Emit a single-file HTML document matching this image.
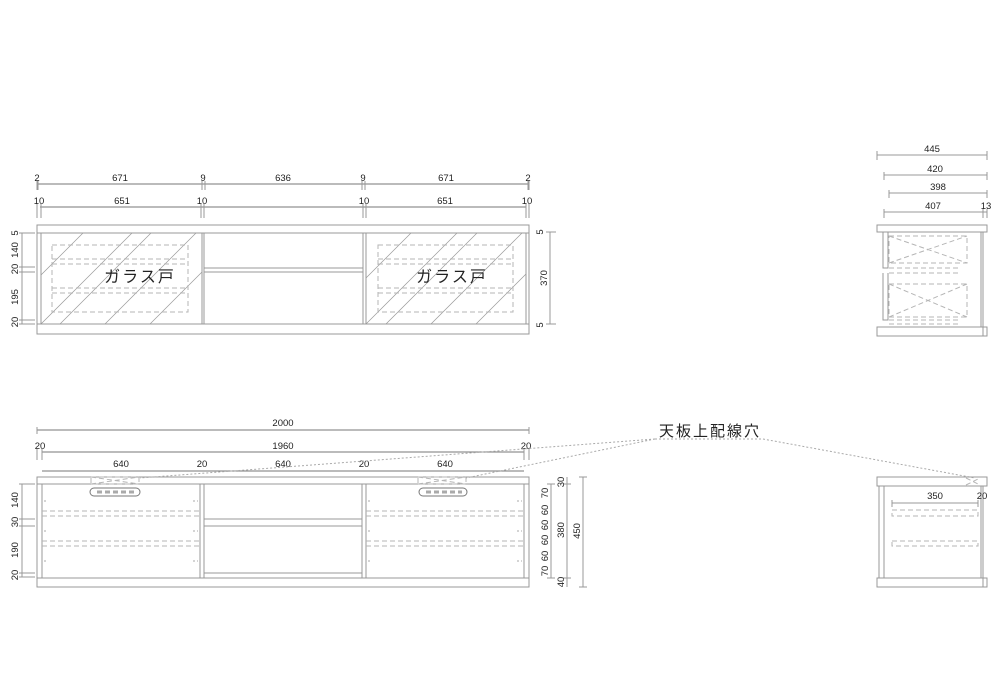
<!DOCTYPE html>
<html><head><meta charset="utf-8"><style>
html,body{margin:0;padding:0;background:#fff}
svg{display:block}
text{font-family:"Liberation Sans","Noto Sans CJK JP",sans-serif;fill:#222}
.d{font-size:9.5px}
.l{stroke:#999;stroke-width:1;fill:none}
.k{stroke:#777;stroke-width:1;fill:none}
.ds{stroke:#b5b5b5;stroke-width:1;fill:none;stroke-dasharray:5,3}
.dt{stroke:#aaa;stroke-width:1;fill:none;stroke-dasharray:2,2}
.g{stroke:#999;stroke-width:.7;fill:none}
</style></head><body>
<svg width="1000" height="700" viewBox="0 0 1000 700">
<rect width="1000" height="700" fill="#fff"/>
<g class="d" text-anchor="middle">
<line class="k" x1="37" y1="184" x2="529" y2="184"/>
<text x="37" y="181">2</text><text x="120" y="181">671</text><text x="203" y="181">9</text><text x="283" y="181">636</text><text x="363" y="181">9</text><text x="446" y="181">671</text><text x="528" y="181">2</text>
<line class="k" x1="40" y1="207" x2="526" y2="207"/>
<text x="39" y="204">10</text><text x="122" y="204">651</text><text x="202" y="204">10</text><text x="364" y="204">10</text><text x="445" y="204">651</text><text x="527" y="204">10</text>
</g>
<g class="l">
<path d="M37 181V190M38 181V190M202 181V190M205 181V190M362 181V190M365 181V190M528 181V190M529 181V190"/>
<path d="M37 204V218M41 204V218M201 204V218M204 204V218M363 204V218M366 204V218M526 204V218M529 204V218"/>
<rect x="37" y="225" width="492" height="8"/>
<rect x="37" y="324" width="492" height="10"/>
<path d="M37 233V324M41 233V324M202 233V324M204 233V324M363 233V324M366 233V324M526 233V324M529 233V324"/>
<path d="M204 268H363M204 272H363"/>
</g>
<clipPath id="c1"><rect x="41" y="233" width="161" height="91"/></clipPath>
<clipPath id="c2"><rect x="366" y="233" width="160" height="91"/></clipPath>
<g class="g" clip-path="url(#c1)">
<path d="M41 275L83 233M41 324L132 233M60 324L151 233M105 324L196 233M150 324L241 233"/>
</g>
<g class="g" clip-path="url(#c2)">
<path d="M366 278L411 233M366 324L457 233M386 324L477 233M431 324L522 233M476 324L567 233"/>
</g>
<g class="ds">
<rect x="52" y="245" width="136" height="67"/><path d="M52 259H188M52 264H188M52 288H188M52 293H188"/>
<rect x="378" y="245" width="135" height="67"/><path d="M378 259H513M378 264H513M378 288H513M378 293H513"/>
</g>
<text x="140" y="282" text-anchor="middle" font-size="16" letter-spacing="2">ガラス戸</text>
<text x="452" y="282" text-anchor="middle" font-size="16" letter-spacing="2">ガラス戸</text>
<g class="l"><path d="M22 233V324M19 233H35M19 267H35M19 272H35M19 320H35M19 324H35"/>
<path d="M550 232V324M546 232H556M546 324H556"/></g>
<g class="d" text-anchor="middle">
<text transform="translate(18,233) rotate(-90)">5</text>
<text transform="translate(18,250) rotate(-90)">140</text>
<text transform="translate(18,269) rotate(-90)">20</text>
<text transform="translate(18,297) rotate(-90)">195</text>
<text transform="translate(18,322) rotate(-90)">20</text>
<text transform="translate(543,232) rotate(-90)">5</text>
<text transform="translate(547,278) rotate(-90)">370</text>
<text transform="translate(543,325) rotate(-90)">5</text>
</g>
<g class="l">
<path d="M877 155H987M877 151V160M987 151V160"/>
<path d="M884 175H987M884 172V180M987 172V180"/>
<path d="M889 193H987M889 190V198M987 190V198"/>
<path d="M884 212H987M884 209V218M983 209V218M987 209V218"/>
<rect x="877" y="225" width="110" height="7"/>
<rect x="877" y="327" width="110" height="9"/>
<path d="M883 232V268H888V232M883 273V320H888V273M983 232V336M981 232V327"/>
</g>
<g class="d" text-anchor="middle">
<text x="932" y="152">445</text><text x="935" y="172">420</text><text x="938" y="190">398</text><text x="933" y="209">407</text><text x="986" y="209">13</text>
</g>
<g class="ds">
<rect x="889" y="236" width="78" height="27"/><path d="M889 236L967 263M889 263L967 236M889 268H960M889 273H960"/>
<rect x="889" y="284" width="78" height="33"/><path d="M889 284L967 317M889 317L967 284M889 320H960M889 324H960"/>
</g>
<g class="d" text-anchor="middle">
<line class="k" x1="37" y1="430" x2="529" y2="430"/><text x="283" y="426">2000</text>
<line class="k" x1="42" y1="452" x2="524" y2="452"/><text x="40" y="449">20</text><text x="283" y="449">1960</text><text x="526" y="449">20</text>
<line class="k" x1="42" y1="471" x2="524" y2="471"/><text x="121" y="467">640</text><text x="202" y="467">20</text><text x="283" y="467">640</text><text x="364" y="467">20</text><text x="445" y="467">640</text>
</g>
<g class="l">
<path d="M37 427V434M529 427V434M37 449V460M42 449V460M524 449V460M529 449V460"/>
<rect x="37" y="477" width="492" height="7"/>
<rect x="37" y="578" width="492" height="9"/>
<path d="M37 484V578M42 484V578M200 484V578M204 484V578M362 484V578M366 484V578M524 484V578M529 484V578"/>
<path d="M204 519H362M204 526H362M204 573H362"/>
</g>
<g class="ds">
<path d="M42 511H200M42 516H200M42 541H200M42 546H200"/>
<path d="M366 511H524M366 516H524M366 541H524M366 546H524"/>
<rect x="91" y="477" width="48" height="7"/><path d="M91 477L139 484M91 484L139 477"/>
<rect x="418" y="477" width="48" height="7"/><path d="M418 477L466 484M418 484L466 477"/>
</g>
<g class="k">
<rect x="90" y="488" width="50" height="8" rx="4"/>
<rect x="419" y="488" width="48" height="8" rx="4"/>
</g>
<g stroke="#aaa" stroke-width="3" stroke-dasharray="5,3"><path d="M97 492H135M426 492H462"/></g>
<g class="dt" stroke-dasharray="3,2"><path d="M44 501H48M44 531H48M44 561H48M193 501H198M193 531H198M193 561H198M368 501H372M368 531H372M368 561H372M517 501H522M517 531H522M517 561H522"/></g>
<g class="l"><path d="M22 484V577M19 484H35M19 519H35M19 526H35M19 573H35M19 577H35"/>
<path d="M551 484V578M547 484H555M547 578H555M567 477V587M563 484H571M563 578H571M583 477V587M579 477H587M579 587H587"/></g>
<g class="d" text-anchor="middle">
<text transform="translate(18,500) rotate(-90)">140</text>
<text transform="translate(18,522) rotate(-90)">30</text>
<text transform="translate(18,550) rotate(-90)">190</text>
<text transform="translate(18,575) rotate(-90)">20</text>
<text transform="translate(548,493) rotate(-90)">70</text>
<text transform="translate(548,510) rotate(-90)">60</text>
<text transform="translate(548,525) rotate(-90)">60</text>
<text transform="translate(548,540) rotate(-90)">60</text>
<text transform="translate(548,556) rotate(-90)">60</text>
<text transform="translate(548,571) rotate(-90)">70</text>
<text transform="translate(564,482) rotate(-90)">30</text>
<text transform="translate(564,530) rotate(-90)">380</text>
<text transform="translate(564,582) rotate(-90)">40</text>
<text transform="translate(580,531) rotate(-90)">450</text>
</g>
<text x="710" y="436" text-anchor="middle" font-size="15" letter-spacing="2">天板上配線穴</text>
<g class="dt"><path d="M655 439H763M655 439L140 478M655 439L466 478M763 439L975 478"/></g>
<g class="l">
<rect x="877" y="477" width="110" height="9"/>
<rect x="877" y="578" width="110" height="9"/>
<path d="M879 486V578M884 486V578M983 486V587M981 486V578"/>
<path d="M892 503H978M892 500V507M978 500V507M983 500V507"/>
</g>
<g class="ds"><rect x="892" y="510" width="86" height="6"/><rect x="892" y="541" width="86" height="5"/>
<path d="M966 478L980 485M966 485L980 478"/></g>
<g class="d" text-anchor="middle"><text x="935" y="499">350</text><text x="982" y="499">20</text></g>
</svg>
</body></html>
